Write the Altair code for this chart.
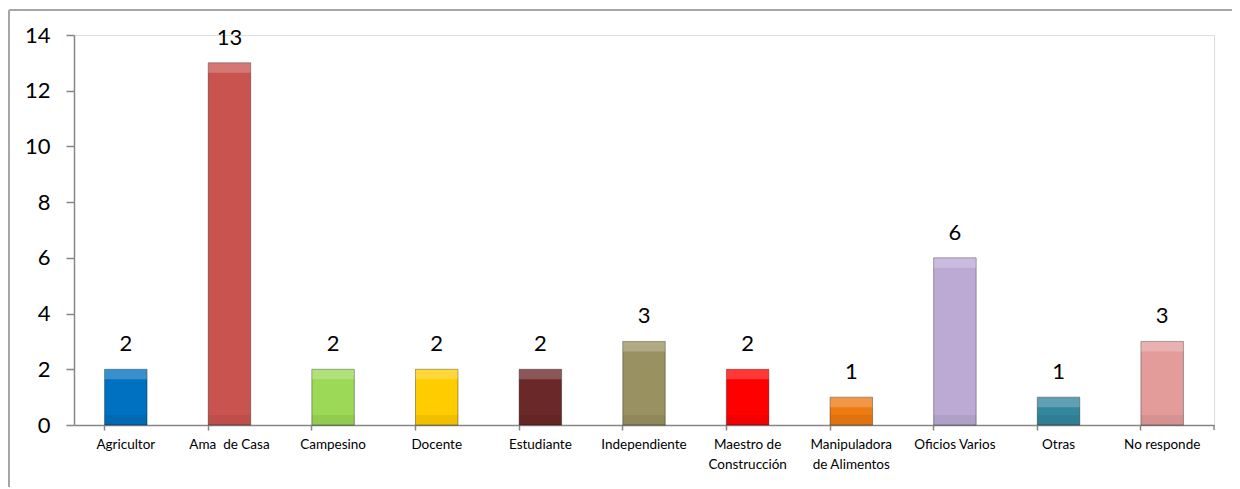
import altair as alt
import pandas as pd

categories = ["Agricultor", "Ama  de Casa", "Campesino", "Docente", "Estudiante",
              "Independiente", "Maestro de Construcción", "Manipuladora de Alimentos",
              "Oficios Varios", "Otras", "No responde"]
values = [2, 13, 2, 2, 2, 3, 2, 1, 6, 1, 3]
colors = ["#0070C0", "#C9534F", "#9BD957", "#FFCC00", "#6B2828", "#9A9160",
          "#FF0000", "#EE7A12", "#BCAAD5", "#32869E", "#E49C9B"]
y_ticks = [0, 2, 4, 6, 8, 10, 12, 14]

df = pd.DataFrame({"cat": categories, "val": values})
FONT = "Lato"
W, H = 1140, 390

x = alt.X("cat:N", sort=categories, title=None,
          scale=alt.Scale(paddingInner=0.59, paddingOuter=0.295),
          axis=alt.Axis(labelAngle=0, bandPosition=0, tickSize=5, tickColor="#868686",
                        domainColor="#868686", domainWidth=1.5, tickWidth=1.5,
                        labelFontSize=13.5, labelFont=FONT, labelColor="#000000",
                        labelPadding=7, labelLineHeight=20,
                        labelExpr="datum.value == 'Maestro de Construcción' ? ['Maestro de', 'Construcción'] : datum.value == 'Manipuladora de Alimentos' ? ['Manipuladora', 'de Alimentos'] : datum.value == 'Ama  de Casa' ? 'Ama \u00a0de Casa' : datum.value"))
y = alt.Y("val:Q", title=None,
          scale=alt.Scale(domain=[0, 14], nice=False),
          axis=alt.Axis(values=y_ticks, grid=False, tickSize=8, tickColor="#868686",
                        domainColor="#868686", domainWidth=1.5, tickWidth=1.5,
                        labelFontSize=22, labelFont=FONT, labelColor="#000000",
                        labelPadding=16))
color = alt.Color("cat:N", sort=categories, legend=None,
                  scale=alt.Scale(domain=categories, range=colors))

base = alt.Chart(df)
bars = base.mark_bar(stroke="#000000", strokeOpacity=0.35, strokeWidth=1).encode(x=x, y=y, color=color)
hi = base.mark_bar(color="#FFFFFF", opacity=0.22, y2Offset=10).encode(
    x=alt.X("cat:N", sort=categories), y="val:Q", y2="val:Q")
lo = base.mark_bar(color="#000000", opacity=0.06, yOffset=-10).encode(
    x=alt.X("cat:N", sort=categories), y=alt.datum(0), y2=alt.datum(0))
labels = base.mark_text(font=FONT, fontSize=22, dy=-13, baseline="bottom", color="#000000").encode(
    x=alt.X("cat:N", sort=categories), y="val:Q", text="val:Q")

one = alt.Chart(pd.DataFrame({"a": [0]}))
end_tick = one.mark_rule(color="#868686", strokeWidth=1.5).encode(
    x=alt.value(W), y=alt.value(H), y2=alt.value(H + 5))
frame_top = one.mark_rule(color="#A6A6A6", strokeWidth=2).encode(
    x=alt.value(-65), x2=alt.value(W + 80), y=alt.value(-25))
frame_left = one.mark_rule(color="#A6A6A6", strokeWidth=2).encode(
    x=alt.value(-65), y=alt.value(-25), y2=alt.value(H + 70))

chart = alt.layer(bars, hi, lo, labels, end_tick, frame_top, frame_left).properties(
    width=W, height=H,
    autosize=alt.AutoSizeParams(type="none"),
    padding={"left": 66, "top": 27, "right": 18, "bottom": 62},
).configure_view(stroke=None).configure(background="#FFFFFF")

chart.save("out.html", embed_options={"renderer": "svg", "actions": False})
